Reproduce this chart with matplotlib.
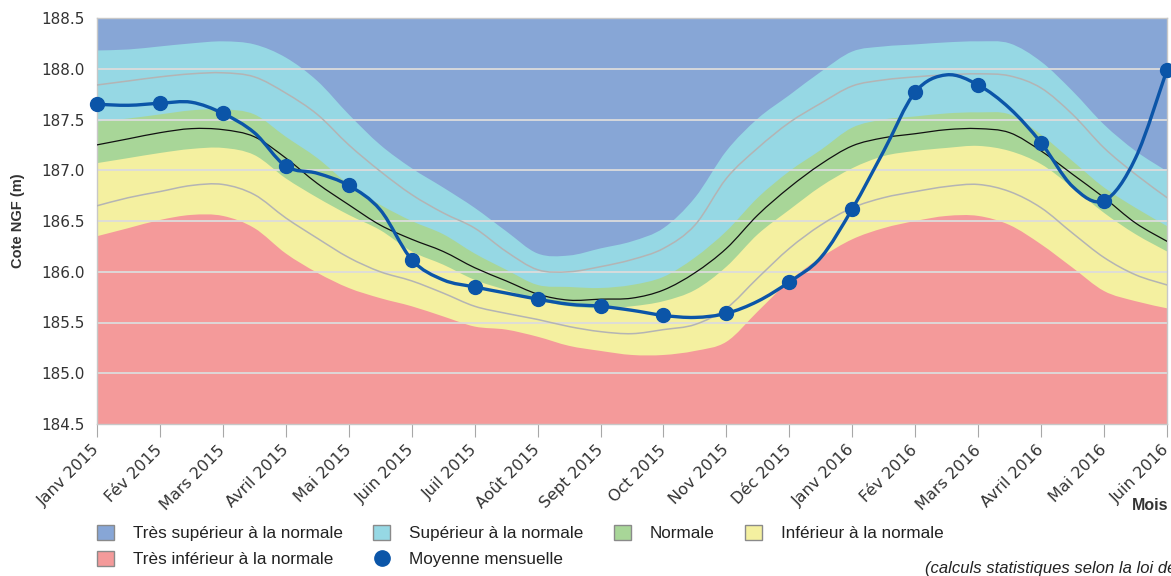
import numpy as np
import matplotlib.pyplot as plt
from matplotlib.patches import Patch, PathPatch
from matplotlib.lines import Line2D
from matplotlib.path import Path

months = ['Janv 2015', 'Fév 2015', 'Mars 2015', 'Avril 2015', 'Mai 2015', 'Juin 2015',
          'Juil 2015', 'Août 2015', 'Sept 2015', 'Oct 2015', 'Nov 2015', 'Déc 2015',
          'Janv 2016', 'Fév 2016', 'Mars 2016', 'Avril 2016', 'Mai 2016', 'Juin 2016']

# values read every half month (index 0 = Janv 2015 ... 17 = Juin 2016)
t = np.arange(0, 17.5, 0.5)

# upper limit of "Supérieur à la normale"
sup_top = [188.18, 188.19, 188.22, 188.25, 188.27, 188.24, 188.11, 187.88, 187.55, 187.25,
           187.02, 186.83, 186.63, 186.40, 186.18, 186.16, 186.23, 186.30, 186.43, 186.73,
           187.19, 187.51, 187.74, 187.97, 188.17, 188.22, 188.24, 188.26, 188.27, 188.25,
           188.07, 187.78, 187.45, 187.19, 186.99]
# upper limit of "Normale"
norm_top = [187.48, 187.51, 187.55, 187.59, 187.60, 187.55, 187.33, 187.12, 186.86, 186.66,
            186.50, 186.37, 186.18, 186.02, 185.87, 185.85, 185.84, 185.87, 185.95, 186.14,
            186.40, 186.73, 186.99, 187.20, 187.42, 187.50, 187.53, 187.56, 187.57, 187.55,
            187.35, 187.09, 186.83, 186.63, 186.45]
# upper limit of "Inférieur à la normale"
inf_top = [187.07, 187.12, 187.17, 187.21, 187.22, 187.15, 186.92, 186.73, 186.56, 186.41,
           186.20, 186.07, 185.92, 185.82, 185.72, 185.66, 185.64, 185.66, 185.71, 185.82,
           186.05, 186.37, 186.61, 186.84, 187.02, 187.14, 187.19, 187.22, 187.24, 187.19,
           187.06, 186.83, 186.58, 186.37, 186.20]
# upper limit of "Très inférieur à la normale"
tres_inf_top = [186.35, 186.43, 186.51, 186.56, 186.55, 186.43, 186.18, 185.99, 185.84, 185.74,
                185.66, 185.56, 185.46, 185.43, 185.36, 185.27, 185.22, 185.18, 185.18, 185.22,
                185.31, 185.61, 185.91, 186.14, 186.32, 186.43, 186.50, 186.55, 186.55, 186.46,
                186.27, 186.04, 185.81, 185.71, 185.64]
# statistical lines
mediane = [187.25, 187.31, 187.37, 187.41, 187.40, 187.33, 187.12, 186.87, 186.66, 186.46,
           186.32, 186.20, 186.04, 185.91, 185.78, 185.72, 185.73, 185.74, 185.82, 185.99,
           186.23, 186.56, 186.83, 187.06, 187.24, 187.32, 187.36, 187.40, 187.41, 187.37,
           187.19, 186.96, 186.73, 186.48, 186.30]
gris_haut = [187.84, 187.88, 187.92, 187.95, 187.96, 187.92, 187.76, 187.55, 187.25, 186.99,
             186.76, 186.58, 186.43, 186.20, 186.02, 186.00, 186.05, 186.12, 186.23, 186.46,
             186.92, 187.22, 187.47, 187.66, 187.83, 187.89, 187.92, 187.94, 187.95, 187.93,
             187.81, 187.55, 187.22, 186.96, 186.73]
gris_bas = [186.65, 186.73, 186.79, 186.85, 186.86, 186.76, 186.53, 186.33, 186.14, 186.00,
            185.91, 185.79, 185.66, 185.59, 185.53, 185.46, 185.41, 185.39, 185.43, 185.48,
            185.64, 185.94, 186.23, 186.46, 186.63, 186.73, 186.79, 186.84, 186.86, 186.79,
            186.63, 186.38, 186.14, 185.97, 185.87]
# mean level (markers on the month values)
moyenne = [187.65, 187.64, 187.66, 187.67, 187.56, 187.37, 187.04, 186.97, 186.85, 186.61,
           186.12, 185.92, 185.85, 185.79, 185.73, 185.68, 185.66, 185.62, 185.57, 185.55,
           185.59, 185.71, 185.90, 186.14, 186.62, 187.19, 187.77, 187.94, 187.84, 187.61,
           187.27, 186.84, 186.70, 187.12, 187.99]

ymin, ymax = 184.5, 188.5

c_tres_sup = '#87A6D6'
c_sup = '#96D8E4'
c_norm = '#A8D698'
c_inf = '#F4F0A0'
c_tres_inf = '#F49A9A'
c_moy = '#0B55A8'


def spline(x, y):
    # smooth curve through the points (Catmull-Rom as cubic Bezier)
    p = np.column_stack([x, y]).astype(float)
    pe = np.vstack([p[0], p, p[-1]])
    verts = [p[0]]
    codes = [Path.MOVETO]
    for i in range(len(p) - 1):
        p0, p1, p2, p3 = pe[i], pe[i + 1], pe[i + 2], pe[i + 3]
        verts += [p1 + (p2 - p0) / 6, p2 - (p3 - p1) / 6, p2]
        codes += [Path.CURVE4] * 3
    return verts, codes


def band(ax, top, color):
    verts, codes = spline(t, top)
    verts += [(t[-1], ymin), (t[0], ymin), (t[0], ymin)]
    codes += [Path.LINETO, Path.LINETO, Path.CLOSEPOLY]
    ax.add_patch(PathPatch(Path(verts, codes), facecolor=color, lw=0, zorder=1))


def curve(ax, y, color, lw, zorder, clip=True):
    verts, codes = spline(t, y)
    ax.add_patch(PathPatch(Path(verts, codes), fill=False, edgecolor=color, lw=lw,
                           zorder=zorder, clip_on=clip, capstyle='round', joinstyle='round'))


fig = plt.figure(figsize=(11.71, 5.76), dpi=100)
ax = fig.add_axes([97 / 1171, 1 - 424 / 576, 1070 / 1171, 406 / 576])

# stacked bands, each filled down to the bottom so no seams show
ax.fill_between(t, ymin, ymax, color=c_tres_sup, lw=0, zorder=1)
band(ax, sup_top, c_sup)
band(ax, norm_top, c_norm)
band(ax, inf_top, c_inf)
band(ax, tres_inf_top, c_tres_inf)

yt = np.arange(ymin, ymax + 0.01, 0.5)
for v in yt[1:-1]:
    ax.axhline(v, color='#DCDCDC', lw=1.3, zorder=2)

curve(ax, gris_haut, '#B4B4B4', 1.1, 3)
curve(ax, gris_bas, '#B4B4B4', 1.1, 3)
curve(ax, mediane, '#111111', 0.9, 3)
curve(ax, moyenne, c_moy, 2.4, 5, clip=False)
ax.plot(t[::2], moyenne[::2], ls='', marker='o', markersize=10, color=c_moy,
        zorder=6, clip_on=False)

ax.set_xlim(0, 17)
ax.set_ylim(ymin, ymax)
ax.set_yticks(yt)
ax.set_yticklabels([f'{v:.1f}' for v in yt])
ax.set_xticks(range(len(months)))
ax.set_xticklabels(months, rotation=45, ha='right', va='center', rotation_mode='anchor')

for s in ax.spines.values():
    s.set_color('#C8C8C8')
    s.set_linewidth(1)
ax.tick_params(axis='x', length=9, color='#A8A8A8', labelsize=11.5, pad=8, labelcolor='#333333')
ax.tick_params(axis='y', length=0, pad=9, labelsize=11, labelcolor='#333333')

ax.set_ylabel('Cote NGF (m)', fontsize=10.5, fontweight='bold', family='Liberation Sans',
              color='#333333')
ax.yaxis.set_label_coords(-0.067, 0.5)

fig.text(1168 / 1171, 1 - 505 / 576, 'Mois', ha='right', va='center', fontsize=11.5,
         fontweight='bold', family='Liberation Sans', color='#333333')

handles = [Patch(facecolor=c_tres_sup, edgecolor='#8A8A8A', lw=1),
           Patch(facecolor=c_tres_inf, edgecolor='#8A8A8A', lw=1),
           Patch(facecolor=c_sup, edgecolor='#8A8A8A', lw=1),
           Line2D([], [], ls='', marker='o', markersize=11, color=c_moy),
           Patch(facecolor=c_norm, edgecolor='#8A8A8A', lw=1),
           Patch(facecolor=c_inf, edgecolor='#8A8A8A', lw=1)]
labels = ['Très supérieur à la normale', 'Très inférieur à la normale',
          'Supérieur à la normale', 'Moyenne mensuelle', 'Normale', 'Inférieur à la normale']
fig.legend(handles, labels, ncol=4, loc='upper left', bbox_to_anchor=(97 / 1171, 1 - 525 / 576),
           frameon=False, prop={'family': 'Liberation Sans', 'size': 12.3},
           handlelength=1.0, handleheight=1.0, handletextpad=1.1, columnspacing=1.78,
           labelspacing=0.55, borderpad=0, borderaxespad=0, labelcolor='#222222')

fig.text(925 / 1171, 1 - 569 / 576, '(calculs statistiques selon la loi de Gauss)', ha='left',
         va='center', fontsize=12, style='italic', family='Liberation Sans', color='#222222')

fig.savefig('out.png', dpi=100)
